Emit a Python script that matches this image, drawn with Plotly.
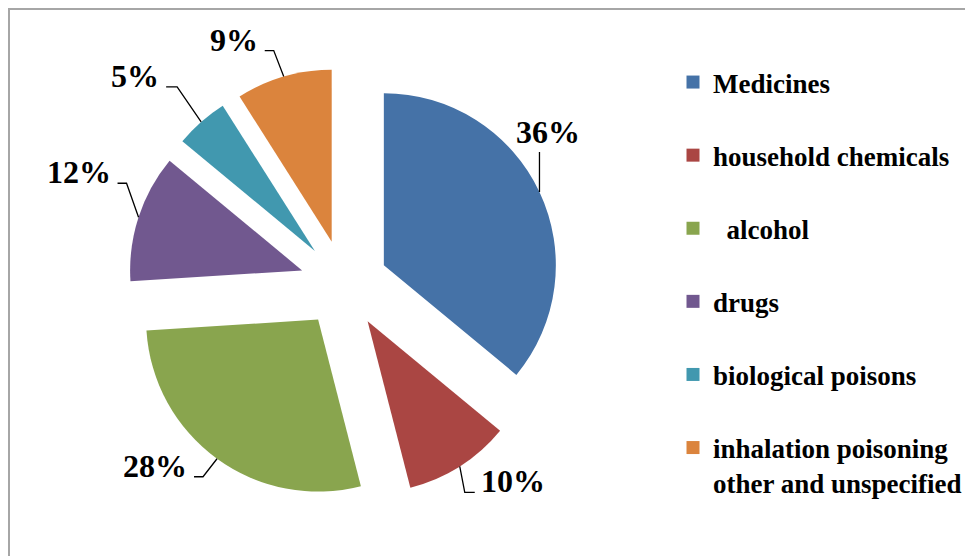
import math
import plotly.graph_objects as go

# ---- data ----
categories = ["Medicines", "household chemicals", "  alcohol", "drugs",
              "biological poisons", "inhalation poisoning<br>other and unspecified"]
shares = [36, 10, 28, 12, 5, 9]
slice_colors = ["#4572A7", "#AA4643", "#89A54E", "#71588F", "#4198AF", "#DB843D"]

# ---- layout constants (pixels, in page coordinates) ----
PAGE = 8                   # default page margin around the figure
W, H = 973 - PAGE, 556 - PAGE
CX, CY = 344 - PAGE, 284 - PAGE   # pie centre
R = 172                    # slice radius
PULL = 0.256               # explode fraction
OUTER = R * (1 + PULL)

# leader-line style per slice: (elbow dx, elbow dy, horizontal run)
leader_style = [(0, -40, 0), (5, 26, 10), (-14, 18, -9),
                (-12, -34, -9), (-24, -35, -11), (-10, -26, -9)]

FONT = "Liberation Serif"

fig = go.Figure()

fig.add_trace(go.Pie(
    labels=categories, values=shares, sort=False, direction="clockwise",
    rotation=0, pull=[PULL] * len(shares), textinfo="none",
    marker=dict(colors=slice_colors, line=dict(width=0)),
    showlegend=False, hoverinfo="label+percent",
    domain=dict(x=[(CX - OUTER) / W, (CX + OUTER) / W],
                y=[1 - (CY + OUTER) / H, 1 - (CY - OUTER) / H]),
))

# legend entries
for i, (name, col) in enumerate(zip(categories, slice_colors)):
    fig.add_trace(go.Scatter(
        x=[None], y=[None], mode="markers", name=name, legendgroup=str(i),
        marker=dict(symbol="square", size=13, color=col), hoverinfo="skip"))

# labels and leader lines computed from slice geometry
total = sum(shares)
cum = 0
shapes = [dict(type="rect", xref="paper", yref="paper", x0=1 / W, x1=1.02,
               y0=-0.02, y1=1 - 1 / H, fillcolor="white",
               line=dict(color="#A6A6A6", width=2), layer="below")]
annotations = []
for v, (edx, edy, hrun) in zip(shares, leader_style):
    mid = math.radians((cum + v / 2) / total * 360)
    cum += v
    ux, uy = math.sin(mid), -math.cos(mid)
    ax, ay = CX + OUTER * ux, CY + OUTER * uy
    ex, ey = ax + edx, ay + edy
    hx = ex + hrun
    shapes.append(dict(type="path", xref="x", yref="y",
                       path=f"M{ax},{ay} L{ex},{ey} L{hx},{ey}",
                       line=dict(color="black", width=1.3), layer="above"))
    if hrun > 0:
        tx, xa, ty = hx + 4, "left", ey - 11
    elif hrun < 0:
        tx, xa, ty = hx - 5, "right", ey - 11
    else:
        tx, xa, ty = ex + 9, "center", ey - 20
    annotations.append(dict(x=tx, y=ty, xref="x", yref="y", text=f"{v}%",
                            showarrow=False, xanchor=xa, yanchor="middle",
                            font=dict(family=FONT, size=32, color="black",
                                      weight="bold")))

fig.update_layout(
    width=W, height=H, margin=dict(l=0, r=0, t=0, b=0),
    paper_bgcolor="#FFFDE6", plot_bgcolor="rgba(0,0,0,0)",
    xaxis=dict(range=[0, W], visible=False, fixedrange=True),
    yaxis=dict(range=[H, 0], visible=False, fixedrange=True),
    shapes=shapes, annotations=annotations,
    showlegend=True,
    legend=dict(x=(673 - PAGE) / W, xanchor="left", y=1 - (58 - PAGE) / H,
                yanchor="top", traceorder="grouped", tracegroupgap=35,
                valign="top", bgcolor="rgba(0,0,0,0)",
                font=dict(family=FONT, size=27, color="black", weight="bold")),
)

fig.write_html("out.html")
